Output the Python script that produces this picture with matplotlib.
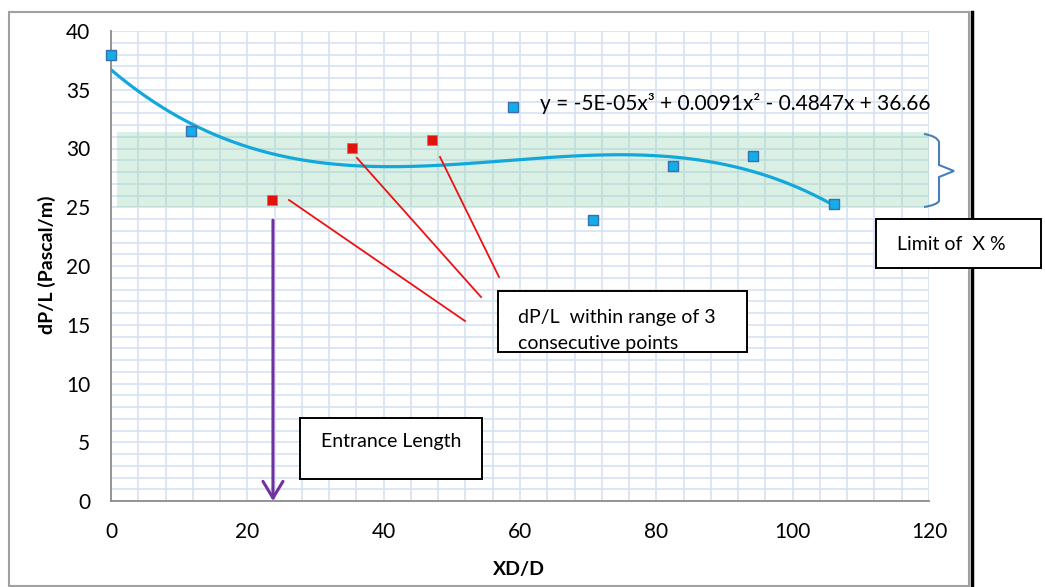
import matplotlib
matplotlib.use("Agg")
import matplotlib.pyplot as plt
import numpy as np
from matplotlib.patches import Rectangle
from matplotlib.path import Path
from matplotlib.patches import PathPatch
from matplotlib.ticker import MultipleLocator

plt.rcParams['font.family'] = ['Lato', 'DejaVu Sans']

# data
xd = [0, 11.78, 23.56, 35.33, 47.1, 58.9, 70.7, 82.4, 94.2, 106.0]
dpl = [38.0, 31.5, 25.6, 30.05, 30.7, 33.5, 23.9, 28.5, 29.4, 25.25]
is_red = [False, False, True, True, True, False, False, False, False, False]
band_lo, band_hi = 25.0, 31.4
band_x0 = 0.9
equation = "y = -5E-05x³ + 0.0091x² - 0.4847x + 36.66"

W, H = 1045, 587
fig = plt.figure(figsize=(W / 100, H / 100), dpi=100)


def fx(px):
    return px / W


def fy(py):
    return 1 - py / H


ax = fig.add_axes([fx(111), fy(501), fx(929) - fx(111), fy(31) - fy(501)])
ax.set_xlim(0, 120)
ax.set_ylim(0, 40)
ax.xaxis.set_major_locator(MultipleLocator(20))
ax.xaxis.set_minor_locator(MultipleLocator(4))
ax.yaxis.set_major_locator(MultipleLocator(5))
ax.yaxis.set_minor_locator(MultipleLocator(1))
ax.set_axisbelow(True)
ax.grid(which='both', color='#d7e2f2', linewidth=1.2)
for s in ['top', 'right']:
    ax.spines[s].set_visible(False)
for s in ['left', 'bottom']:
    ax.spines[s].set_color('#8c8c8c')
    ax.spines[s].set_linewidth(1.3)
ax.tick_params(which='both', length=0, labelsize=15)
ax.tick_params(axis='x', pad=15)
ax.tick_params(axis='y', pad=15)

# green tolerance band
ax.add_patch(Rectangle((band_x0, band_lo), 120 - band_x0, band_hi - band_lo,
                       facecolor='#8fd3ad', alpha=0.33, edgecolor='none', zorder=1))

# cubic trendline fitted to the points
coef = np.polyfit(xd, dpl, 3)
xs = np.linspace(xd[0], xd[-1], 300)
ax.plot(xs, np.polyval(coef, xs), color='#12a8dc', linewidth=2.3, zorder=3)

for x, y, r in zip(xd, dpl, is_red):
    if r:
        ax.scatter(x, y, marker='s', s=58, color='#e0140c', edgecolors='#f06050',
                   linewidths=0.6, zorder=4, clip_on=False)
    else:
        ax.scatter(x, y, marker='s', s=52, color='#12aee8', edgecolors='#3a70b0',
                   linewidths=1.0, zorder=4, clip_on=False)

ax.set_xlabel('XD/D', fontsize=14, fontweight='bold')
ax.set_ylabel('dP/L (Pascal/m)', fontsize=14, fontweight='bold')
ax.xaxis.set_label_coords((519 - 111) / 818, (501 - 570) / 470)
ax.yaxis.set_label_coords((47 - 111) / 818, (501 - 265) / 470)
ax.xaxis.label.set_va('center')
ax.yaxis.label.set_va('center')

ax.text(fx(540), fy(104), equation, transform=fig.transFigure, fontsize=15,
        va='center', ha='left')

# red pointer lines
red_lines = [((289, 200), (465, 321)), ((357, 158), (481, 297)), ((440, 157), (499, 277))]
for (x0, y0), (x1, y1) in red_lines:
    fig.add_artist(plt.Line2D([fx(x0), fx(x1)], [fy(y0), fy(y1)], color='#ee1111',
                              linewidth=1.3, transform=fig.transFigure))

# entrance length arrow
ax.annotate('', xy=(xd[2] + 0.2, 0), xytext=(xd[2] + 0.2, 23.9),
            arrowprops=dict(arrowstyle='->,head_length=0.6,head_width=0.36',
                            color='#7030a0', lw=2.2, mutation_scale=20,
                            shrinkA=0, shrinkB=0), zorder=5)

# text boxes
boxes = [
    ((300, 418, 482, 479), [("Entrance Length", 321, 442)]),
    ((498, 291, 747, 352), [("dP/L  within range of 3", 518, 317), ("consecutive points", 518, 343)]),
    ((876, 219, 1041, 268), [("Limit of  X %", 897, 245)]),
]
for (x0, y0, x1, y1), lines in boxes:
    fig.add_artist(Rectangle((fx(x0), fy(y1)), fx(x1) - fx(x0), fy(y0) - fy(y1),
                             transform=fig.transFigure, facecolor='white',
                             edgecolor='black', linewidth=1.4, zorder=6))
    for t, tx, ty in lines:
        fig.text(fx(tx), fy(ty), t, fontsize=14, va='center', ha='left', zorder=7)

# curly brace
bx = [924, 937, 939, 939, 954, 939, 939, 937, 924]
by = [134, 136, 142, 165, 171, 177, 201, 205, 207]
verts = [(fx(a), fy(b)) for a, b in zip(bx, by)]
codes = [Path.MOVETO, Path.CURVE3, Path.CURVE3, Path.LINETO, Path.LINETO,
         Path.LINETO, Path.LINETO, Path.CURVE3, Path.CURVE3]
fig.add_artist(PathPatch(Path(verts, codes), transform=fig.transFigure,
                         facecolor='none', edgecolor='#4a7ebb', linewidth=1.5))

# outer frame
fig.add_artist(Rectangle((fx(9), fy(586)), fx(969) - fx(9), fy(12) - fy(586),
                         transform=fig.transFigure, facecolor='none',
                         edgecolor='#a0a0a0', linewidth=1.5, zorder=0))
fig.add_artist(plt.Line2D([fx(972), fx(972)], [fy(12), 0], color='black',
                          linewidth=2.5, transform=fig.transFigure))

fig.savefig('out.png', dpi=100)
